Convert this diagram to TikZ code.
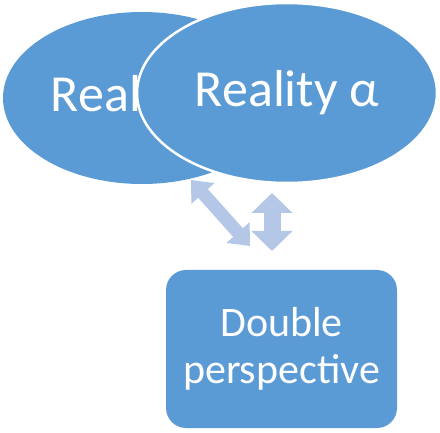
\documentclass[tikz,border=0pt]{standalone}
\usepackage{fontspec}
\setmainfont{Carlito}
\usepackage{tikz}
\usetikzlibrary{arrows.meta,shapes.geometric}
\definecolor{boxblue}{RGB}{91,155,213}
\definecolor{arrblue}{RGB}{180,199,231}

\begin{document}
\begin{tikzpicture}[x=1pt,y=1pt,
  blob/.style={ellipse,fill=boxblue,text=white,inner sep=0pt,font=\fontsize{52}{60}\selectfont},
  dblarrow/.style={arrblue,line width=#1}]
  \useasboundingbox (0,0) rectangle (440,432);
  \node[blob,minimum width=278,minimum height=172] (realB) at (142,334) {Real\phantom{ity β}};
  \node[blob,draw=white,line width=2.5pt,minimum width=300,minimum height=180] (realA) at (287,339) {Reality α};
  \node[fill=boxblue,text=white,rounded corners=20pt,minimum width=231,minimum height=158,
    align=center,font=\fontsize{42}{47}\selectfont] (dbl) at (281.5,83) {Double\\perspective};
  % connectors
  \coordinate (d1) at (191,252); \coordinate (d2) at (250,186);
  \coordinate (v1) at (272,239); \coordinate (v2) at (272,181);
  \draw[dblarrow=13pt,{Triangle[width=30pt,length=18pt]}-{Triangle[width=30pt,length=18pt]}] (d1) -- (d2);
  \draw[dblarrow=17pt,{Triangle[width=40pt,length=20pt]}-{Triangle[width=40pt,length=20pt]}] (v1) -- (v2);
\end{tikzpicture}
\end{document}
